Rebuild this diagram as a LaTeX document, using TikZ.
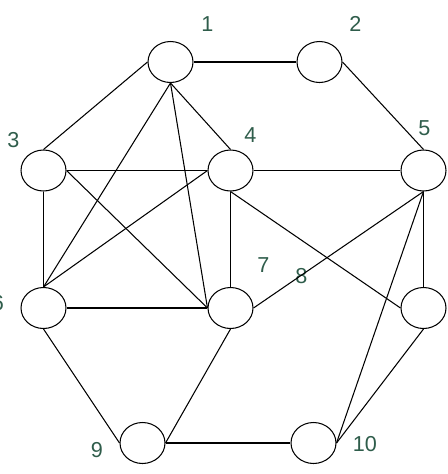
\documentclass[tikz,border=0pt]{standalone}
\usepackage{fontspec}
\setmainfont{Liberation Sans}
\usepackage{tikz}
\usetikzlibrary{shapes.geometric}
\usepackage{xcolor}
\definecolor{labelgreen}{HTML}{2F5D4B}

\begin{document}
\begin{tikzpicture}[
  x=0.02cm, y=-0.02cm,
  vertex/.style={draw, ellipse, line width=0.6pt,
                 minimum width=0.9cm, minimum height=0.82cm, inner sep=0pt},
  tag/.style={text=labelgreen, font=\fontsize{12.3}{14}\selectfont, inner sep=0pt},
  edge/.style={line width=0.6pt}
]
  \useasboundingbox (0,0) rectangle (448,474);

  % vertices
  \node[vertex] (v1) at (170.5, 62) {};
  \node[vertex] (v2) at (319.5, 62) {};
  \node[vertex] (v3) at (43.5, 170.5) {};
  \node[vertex] (v4) at (230.5, 170.5) {};
  \node[vertex] (v5) at (423.5, 170.5) {};
  \node[vertex] (v6) at (43.5, 308) {};
  \node[vertex] (v7) at (230.5, 308) {};
  \node[vertex] (v8) at (423.5, 308) {};
  \node[vertex] (v9) at (142.5, 443) {};
  \node[vertex] (v10) at (313.5, 443) {};

  % labels
  \node[tag] (t1) at (207.5, 24.5) {1};
  \node[tag] (t2) at (355.5, 24) {2};
  \node[tag] (t3) at (13.5, 140.5) {3};
  \node[tag] (t4) at (250.5, 135.5) {4};
  \node[tag] (t5) at (424.5, 128.5) {5};
  \node[tag] (t6) at (-2, 303) {6};
  \node[tag] (t7) at (263.5, 265.5) {7};
  \node[tag] (t8) at (301.5, 276) {8};
  \node[tag] (t9) at (97, 450) {9};
  \node[tag] (t10) at (365, 444) {10};

  % edges
  \draw[edge] (v1.east) -- (v2.west);
  \draw[edge] (v1.west) -- (v3.north);
  \draw[edge] (v1.south) -- (v4.north);
  \draw[edge] (v1.south) -- (v6.north);
  \draw[edge] (v1.south) -- (v7.west);
  \draw[edge] (v2.east) -- (v5.north);
  \draw[edge] (v3.east) -- (v4.west);
  \draw[edge] (v3.south) -- (v6.north);
  \draw[edge] (v3.east) -- (v7.west);
  \draw[edge] (v4.east) -- (v5.west);
  \draw[edge] (v4.west) -- (v6.north);
  \draw[edge] (v4.south) -- (v7.north);
  \draw[edge] (v4.south) -- (v8.west);
  \draw[edge] (v5.south) -- (v7.east);
  \draw[edge] (v5.south) -- (v8.north);
  \draw[edge] (v5.south) -- (v10.east);
  \draw[edge] (v6.east) -- (v7.west);
  \draw[edge] (v6.south) -- (v9.west);
  \draw[edge] (v7.south) -- (v9.east);
  \draw[edge] (v9.east) -- (v10.west);
  \draw[edge] (v8.south) -- (v10.east);
\end{tikzpicture}
\end{document}
